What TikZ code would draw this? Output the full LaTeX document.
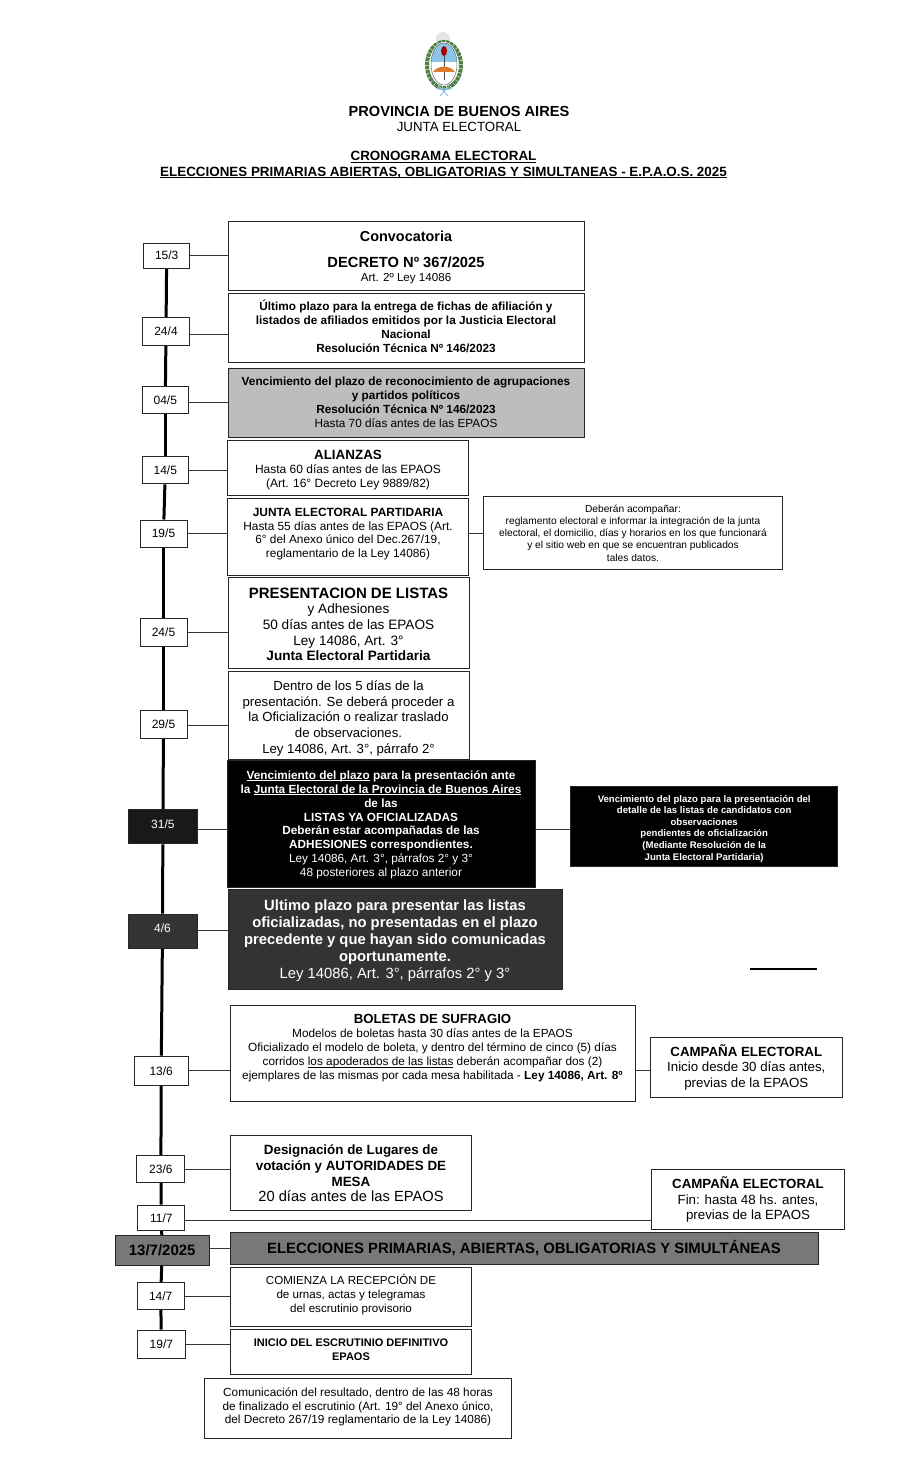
\documentclass[tikz,border=0pt]{standalone}
\usepackage{fontspec}
\usetikzlibrary{backgrounds}
\setmainfont{Liberation Sans}
\newcommand{\tam}[2]{\fontsize{#1}{#2}\selectfont}
\newcommand{\subr}[1]{\setbox0\hbox{#1}\rlap{\rule[-1.6pt]{\wd0}{.8pt}}\box0\relax}
\definecolor{grisclaro}{HTML}{BDBDBD}
\definecolor{grismedio}{HTML}{787878}
\definecolor{grisoscuro}{HTML}{333333}
\definecolor{celeste}{HTML}{8CC4EA}
\definecolor{laurel}{HTML}{4E7F45}
\definecolor{manos}{HTML}{E07B2E}
\tikzset{
  caja/.style={draw=black!85, line width=1pt, fill=white, inner sep=0pt, align=center, text=black},
  fecha/.style={caja, font=\tam{12}{14}},
  enlace/.style={draw=black!80, line width=1pt},
  eje/.style={draw=black, line width=3pt}
}
\begin{document}
\begin{tikzpicture}[x=1pt,y=-1pt]
  \useasboundingbox (0,0) rectangle (900,1482);

  % Escudo
  \fill[black!10] (443,39) circle (7);
  \draw[laurel, line width=4pt, dash pattern=on 3.5pt off .7pt] (444,65) ellipse (17 and 23);
  \fill[white] (444,64) ellipse (14 and 22);
  \begin{scope}
    \clip (444,64) ellipse (13 and 21);
    \fill[celeste] (430,42) rectangle (458,62);
  \end{scope}
  \draw[black!60, line width=.5pt] (444,64) ellipse (13 and 21);
  \draw[black!70, line width=1pt] (444,52) -- (444,80);
  \fill[red!65!black] (444,51) ellipse (3 and 5);
  \fill[manos] (433,72) .. controls (437,65) and (451,65) .. (455,72) -- cycle;
  \draw[celeste, line width=1pt] (439,86) -- (448,96) (449,86) -- (440,96) (436,89) -- (452,89);

  % Encabezado
  \node[font=\bfseries\tam{14.6}{17}] (provincia) at (459,111) {PROVINCIA DE BUENOS AIRES};
  \node[font=\tam{13.3}{16}] (junta) at (459,127) {JUNTA ELECTORAL};
  \node[font=\bfseries\tam{13.4}{15}] (crono) at (443.5,157) {\subr{CRONOGRAMA ELECTORAL}};
  \node[font=\bfseries\tam{13.4}{15}] (epaos) at (443.5,172.5) {\subr{ELECCIONES PRIMARIAS ABIERTAS, OBLIGATORIAS Y SIMULTANEAS - E.P.A.O.S. 2025}};

  % Fechas
  \node[fecha, minimum width=46, minimum height=25] (f153) at (166.7,255.7) {15/3};
  \node[fecha, minimum width=47, minimum height=28] (f244) at (166,331.5) {24/4};
  \node[fecha, minimum width=46, minimum height=27] (f045) at (165.3,400) {04/5};
  \node[fecha, minimum width=46, minimum height=27] (f145) at (165.3,470.3) {14/5};
  \node[fecha, minimum width=47, minimum height=27] (f195) at (163.5,533.5) {19/5};
  \node[fecha, minimum width=47, minimum height=28] (f245) at (163.5,632.5) {24/5};
  \node[fecha, minimum width=47, minimum height=28] (f295) at (163.5,724.3) {29/5};
  \node[fecha, fill=black!90, text=white, minimum width=69, minimum height=34] (f315) at (162.9,826.8) {31/5\\[-8pt]\mbox{}};
  \node[fecha, fill=grisoscuro, text=white, minimum width=69, minimum height=34] (f46) at (162.5,931.2) {4/6\\[-8pt]\mbox{}};
  \node[fecha, minimum width=54, minimum height=29] (f136) at (161.2,1070.7) {13/6};
  \node[fecha, minimum width=48, minimum height=27] (f236) at (160.9,1169) {23/6};
  \node[fecha, minimum width=47, minimum height=25] (f117) at (161.3,1217.7) {11/7};
  \node[fecha, fill=grismedio, font=\bfseries\tam{15}{15}, minimum width=94, minimum height=30] (f137) at (162.2,1250.3) {13/7/2025};
  \node[fecha, minimum width=47, minimum height=27] (f147) at (160.7,1296) {14/7};
  \node[fecha, minimum width=48, minimum height=28] (f197) at (161.4,1344) {19/7};

  % Cajas principales
  \node[caja, minimum width=356, minimum height=69] (convoca) at (406,255.5) {%
    \mbox{}\\[2pt]
    {\bfseries\tam{14.4}{16}Convocatoria}\\[14pt]
    {\bfseries\tam{14.7}{16}DECRETO Nº 367/2025}\\[2pt]
    {\tam{11.6}{14}Art. 2º Ley 14086}};
  \node[caja, font=\bfseries\tam{11.8}{14}, minimum width=356, minimum height=69] (fichas) at (406,328) {%
    Último plazo para la entrega de fichas de afiliación y\\
    listados de afiliados emitidos por la Justicia Electoral\\
    Nacional\\
    Resolución Técnica Nº 146/2023\\[-11.5pt]\mbox{}};
  \node[caja, fill=grisclaro, font=\bfseries\tam{11.8}{14}, minimum width=356, minimum height=69] (agrup) at (406,403) {%
    Vencimiento del plazo de reconocimiento de agrupaciones\\
    y partidos políticos\\
    Resolución Técnica Nº 146/2023\\
    {\mdseries Hasta 70 días antes de las EPAOS}\\[-12pt]\mbox{}};
  \node[caja, font=\tam{12}{14}, minimum width=241, minimum height=55] (alianzas) at (348,468) {%
    \mbox{}\\[0pt]
    {\bfseries\tam{13.4}{15}ALIANZAS}\\
    Hasta 60 días antes de las EPAOS\\
    (Art. 16° Decreto Ley 9889/82)};
  \node[caja, font=\tam{11.85}{13.7}, minimum width=241, minimum height=77] (juntap) at (348,537.3) {%
    {\bfseries\tam{11.9}{14}JUNTA ELECTORAL PARTIDARIA}\\
    Hasta 55 días antes de las EPAOS (Art.\\
    6° del Anexo único del Dec.267/19,\\
    reglamentario de la Ley 14086)\\[-5pt]\mbox{}};
  \node[caja, font=\tam{13.6}{15.7}, minimum width=241, minimum height=91] (listas) at (348.5,623.3) {%
    \mbox{}\\[-3pt]
    {\bfseries\tam{15}{16}PRESENTACION DE LISTAS}\\
    y Adhesiones\\
    50 días antes de las EPAOS\\
    Ley 14086, Art. 3°\\
    {\bfseries Junta Electoral Partidaria}};
  \node[caja, font=\tam{13.2}{15.7}, minimum width=241, minimum height=88] (dentro) at (348.5,715.5) {%
    \mbox{}\\[0pt]
    Dentro de los 5 días de la\\
    presentación. Se deberá proceder a\\
    la Oficialización o realizar traslado\\
    de observaciones.\\
    Ley 14086, Art. 3°, párrafo 2°};
  \node[caja, fill=black, text=white, font=\tam{11.8}{13.9}, minimum width=308, minimum height=127] (vencim) at (381,824) {%
    \mbox{}\\[-3.5pt]
    {\bfseries\subr{Vencimiento del plazo} para la presentación ante}\\
    {\bfseries la \subr{Junta Electoral de la Provincia de Buenos Aires}}\\
    {\bfseries de las}\\
    {\bfseries LISTAS YA OFICIALIZADAS}\\
    {\bfseries Deberán estar acompañadas de las}\\
    {\bfseries ADHESIONES correspondientes.}\\
    Ley 14086, Art. 3°, párrafos 2° y 3°\\
    48 posteriores al plazo anterior};
  \node[caja, fill=grisoscuro, text=white, font=\tam{14.8}{17}, minimum width=334, minimum height=100] (ultimo) at (395,939.3) {%
    \mbox{}\\[-4.5pt]
    {\bfseries Ultimo plazo para presentar las listas}\\
    {\bfseries oficializadas, no presentadas en el plazo}\\
    {\bfseries precedente y que hayan sido comunicadas}\\
    {\bfseries oportunamente.}\\
    Ley 14086, Art. 3°, párrafos 2° y 3°};
  \node[caja, font=\tam{11.8}{14}, minimum width=405, minimum height=96] (boletas) at (432.5,1053.3) {%
    {\bfseries\tam{13.2}{14}BOLETAS DE SUFRAGIO}\\
    Modelos de boletas hasta 30 días antes de la EPAOS\\
    Oficializado el modelo de boleta, y dentro del término de cinco (5) días\\
    corridos \subr{los apoderados de las listas} deberán acompañar dos (2)\\
    ejemplares de las mismas por cada mesa habilitada - {\bfseries Ley 14086, Art. 8º}\\[-2pt]\mbox{}};
  \node[caja, font=\bfseries\tam{13.4}{15.7}, minimum width=241, minimum height=75] (lugares) at (351,1173.3) {%
    Designación de Lugares de\\
    votación y AUTORIDADES DE\\
    MESA\\
    {\mdseries\tam{14.7}{15.7}20 días antes de las EPAOS}};
  \node[caja, fill=grismedio, font=\bfseries\tam{14.9}{16}, minimum width=588, minimum height=32] (elecc) at (524,1248.3) {%
    ELECCIONES PRIMARIAS, ABIERTAS, OBLIGATORIAS Y SIMULTÁNEAS};
  \node[caja, font=\tam{11.6}{14}, minimum width=241, minimum height=59] (urnas) at (351,1296.8) {%
    COMIENZA LA RECEPCIÓN DE\\
    de urnas, actas y telegramas\\
    del escrutinio provisorio\\[-8pt]\mbox{}};
  \node[caja, font=\bfseries\tam{11}{14}, minimum width=241, minimum height=45] (definit) at (351,1352.3) {%
    INICIO DEL ESCRUTINIO DEFINITIVO\\
    EPAOS\\[-9pt]\mbox{}};
  \node[caja, font=\tam{11.8}{13.6}, minimum width=307, minimum height=60] (comunic) at (358,1408.5) {%
    Comunicación del resultado, dentro de las 48 horas\\
    de finalizado el escrutinio (Art. 19° del Anexo único,\\
    del Decreto 267/19 reglamentario de la Ley 14086)\\[-8.6pt]\mbox{}};

  % Cajas laterales
  \node[caja, font=\tam{10.2}{12.2}, minimum width=299, minimum height=73] (acomp) at (633,533) {%
    Deberán acompañar:\\
    reglamento electoral e informar la integración de la junta\\
    electoral, el domicilio, días y horarios en los que funcionará\\
    y el sitio web en que se encuentran publicados\\
    tales datos.};
  \node[caja, fill=black, text=white, font=\bfseries\tam{9.6}{11.6}, minimum width=267, minimum height=80] (detalle) at (704.2,826.7) {%
    \mbox{}\\[-.7pt]
    Vencimiento del plazo para la presentación del\\
    detalle de las listas de candidatos con\\
    observaciones\\
    pendientes de oficialización\\
    (Mediante Resolución de la\\
    Junta Electoral Partidaria)};
  \node[caja, font=\tam{13.3}{15.5}, minimum width=192, minimum height=60] (campana) at (746.3,1067.3) {%
    {\bfseries CAMPAÑA ELECTORAL}\\
    Inicio desde 30 días antes,\\
    previas de la EPAOS};
  \node[caja, font=\tam{13.3}{15.8}, minimum width=193, minimum height=60] (campfin) at (748,1199.5) {%
    {\bfseries CAMPAÑA ELECTORAL}\\
    Fin: hasta 48 hs. antes,\\
    previas de la EPAOS};

  % Trazo suelto
  \coordinate (trazoa) at (750,968.7);
  \coordinate (trazob) at (817,968.7);
  \draw[draw=black, line width=2pt] (trazoa) -- (trazob);

  % Eje del cronograma
  \begin{pgfonlayer}{background}
    \foreach \a/\b in {f153/f244,f244/f045,f045/f145,f145/f195,f195/f245,f245/f295,f295/f315,f315/f46,f46/f136,f136/f236,f236/f117,f117/f137,f137/f147,f147/f197}
      \draw[eje] (\a) -- (\b);
  \end{pgfonlayer}

  % Enlaces
  \draw[enlace] (f153.east) -- (convoca.west |- f153.east);
  \draw[enlace] (f244.east |- 0,334) -- (fichas.west |- 0,334);
  \draw[enlace] (f045.east |- 0,402.3) -- (agrup.west |- 0,402.3);
  \draw[enlace] (f145.east |- 0,470.7) -- (alianzas.west |- 0,470.7);
  \draw[enlace] (f195.east) -- (juntap.west |- f195.east);
  \draw[enlace] (juntap.east |- acomp.west) -- (acomp.west);
  \draw[enlace] (f245.east) -- (listas.west |- f245.east);
  \draw[enlace] (f295.east |- 0,725.5) -- (dentro.west |- 0,725.5);
  \draw[enlace] (f315.east |- 0,829) -- (vencim.west |- 0,829);
  \draw[enlace] (vencim.east |- 0,829) -- (detalle.west |- 0,829);
  \draw[enlace] (f46.east |- 0,930) -- (ultimo.west |- 0,930);
  \draw[enlace] (f136.east) -- (boletas.west |- f136.east);
  \draw[enlace] (boletas.east |- f136.east) -- (campana.west |- f136.east);
  \draw[enlace] (f236.east) -- (lugares.west |- f236.east);
  \draw[enlace] (f117.east |- 0,1220) -- (campfin.west |- 0,1220);
  \draw[enlace] (f137.east |- elecc.west) -- (elecc.west);
  \draw[enlace] (f147.east) -- (urnas.west |- f147.east);
  \draw[enlace] (f197.east) -- (definit.west |- f197.east);
\end{tikzpicture}
\end{document}
